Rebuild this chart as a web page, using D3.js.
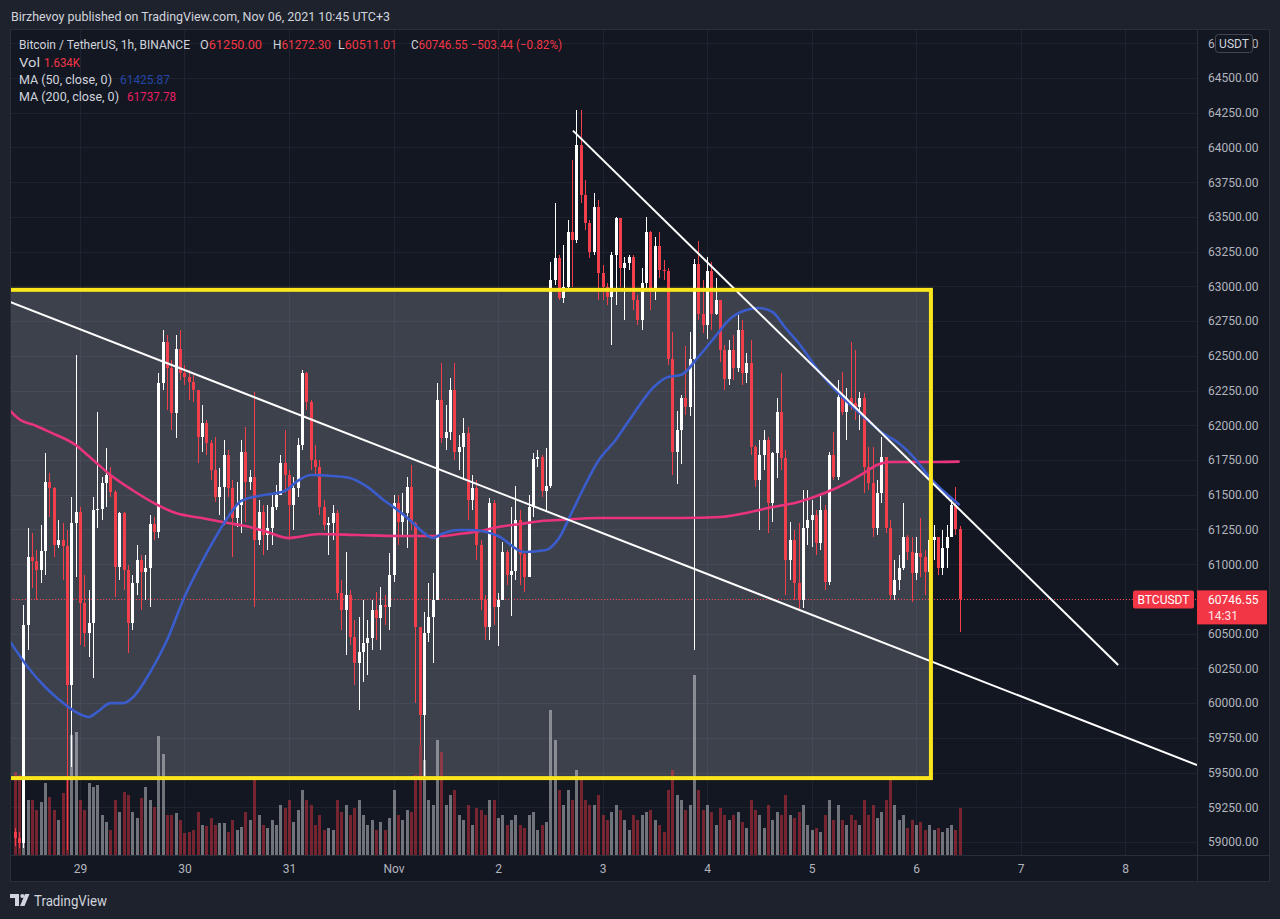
<!DOCTYPE html>
<html><head><meta charset="utf-8">
<script src="https://cdn.jsdelivr.net/npm/d3@7"></script>
<style>
html,body{margin:0;padding:0;background:#1e222d;}
svg{display:block;}
text{font-family:Roboto,"Noto Sans",sans-serif;}
</style></head><body>
<svg id="c" width="1280" height="919"></svg>
<script>
// ---------- DATA (BTCUSDT 1h, hours counted from Oct 29 00:00 UTC+3) ----------
const firstHour = -15;
const firstOpen = 59072;
const closes = [
 59030,58992,60562,61052,61023,60958,61095,61592,61548,61138,61174,61131,60130,61296,61376, // -15..-1
 60720,60504,60576,61390,61397,61584,61642,61520,60980,61368, // 0..9
 60958,60576,60864,61030,60944,60972,61289,61232,62304,62600,
 62412,62088,62549,62376,62348,62312,62254,61916,62016,61872,
 61678,61484,61556,61786,61548,61332,61426,61808,61592,61628,
 61174,61376,61210,61260,61412,61498,61728,61642,61426,61548, // 40..49
 61858,62376,62168,61750,61700,61412,61282,61296,61368,60792,
 60670,60778,60476,60288,60368,60432,60468,60670,60612,60706,
 60692,60922,61440,61304,61368,61556,61296,60548,59914,60504,
 60620,60742,62182,61908,61952,62254,61808,61844,61944,61462,
 61548,61138,60742,60548,61440,60692,60742,61088,60922,60951, // 90..99
 61318,61073,60908,61412,61757,61772,61527,61563,63046,63204,
 62916,62996,63392,63334,64018,63658,63456,63248,63572,63096,
 62996,62924,63226,63492,63132,63168,63212,62902,62758,63024,
 63392,62981,63291,63118,63111,62477,61808,61966,62196,62132,
 62477,63161,62801,62722,63111,62801,62902,62542,62333,62542, // 140..149
 62412,62686,62376,62448,61844,61606,61786,61894,61440,61800,
 62096,61764,61030,61174,60864,60742,61260,61318,61354,61152,
 61390,60872,61786,61628,62204,62096,62196,62160,62132,62196,
 61700,61584,61260,61512,61772,61260,60778,60886,60972,61196,
 61088,60936,61080,61052,60944,61174,61196,60972,61116,61196, // 190..199
 61426,61250,60746.55
];
const highs = [
 59100,59072,60706,61260,61224,61102,61282,61800,61656,61556,61318,61296,61246,61484,62506,
 61412,60922,60814,61484,62096,61628,61836,61700,61534,61376,
 61376,60994,60922,61138,61066,61066,61354,61340,62376,62686,
 62650,62470,62650,62686,62434,62398,62362,62146,62146,62038,
 61894,61916,61692,61894,61822,61606,61592,61894,61988,61678,
 62240,61462,61426,61426,61498,61570,61786,61966,61678,61628,
 61908,62398,62384,62182,61858,61750,61462,61340,61426,61390,
 60886,61088,60814,60598,60620,60742,60598,60742,60800,60836,
 60778,61080,61498,61498,61512,61628,61714,61304,60526,60656,
 60864,60936,62304,62448,62146,62340,62448,61930,62052,61988,
 61642,61606,61174,60778,61480,61462,60792,61160,61102,61412,
 61563,61390,61080,61498,61800,61822,61786,61836,63176,63600,
 63226,63298,63478,63910,64270,64270,63766,63478,63672,63622,
 63154,63024,63248,63500,63478,63212,63226,63226,62938,63132,
 63500,63399,63352,63392,63190,63132,62672,62103,62218,62571,
 62672,63197,63327,63046,63212,63176,63060,62830,62578,62614,
 62650,62794,62758,62520,62614,61858,61894,61966,61916,61808,
 62196,62376,61822,61304,61246,61296,61534,61534,61462,61390,
 61498,61426,61808,61952,62326,62384,62268,62600,62542,62240,
 62232,61844,61844,61606,61916,61772,61318,61030,61066,61440,
 61210,61196,61196,61332,61102,61282,61282,61174,61246,61282,
 61484,61556,61272.30
];
const lows = [
 58971,58956,58956,60382,60828,60742,60864,60922,61340,61052,61116,60886,58942,59540,60908,
 60418,60404,60332,60180,61260,61318,61412,61484,60764,60886,
 60814,60360,60526,60778,60670,60742,60692,61174,61188,62254,
 62110,61966,61908,62326,62290,62182,62168,61728,61808,61786,
 61606,61448,61354,61282,61484,61052,61268,61224,61304,61534,
 60692,61138,61066,61102,61138,61390,61520,61512,61174,61246,
 61484,61822,62110,61678,61642,61354,61246,61066,61174,60742,
 60526,60346,60418,60130,59950,60152,60202,60382,60454,60382,
 60562,60526,60872,61138,61210,61116,61246,60000,59698,59446,
 60440,60288,60742,61872,61822,61894,61750,61678,61606,61318,
 61390,61030,60670,60454,60454,60562,60411,60742,60850,60627,
 60886,60850,60800,60958,61340,61700,61484,61383,61548,63010,
 62902,62880,62974,62996,63312,63600,63406,63204,63226,62902,
 62902,62866,62578,62866,62996,62758,63118,62830,62722,62686,
 62974,62830,62902,63060,63046,62434,61642,61577,61721,62074,
 62067,60382,62758,62664,62621,62686,62794,62456,62254,62290,
 62326,62384,62290,62304,61786,61556,61246,61678,61224,61304,
 61620,61678,60778,60886,60742,60670,60684,61138,61124,61066,
 61102,60814,60850,61606,61606,62074,61894,62110,62038,61966,
 61512,61534,61196,61210,61440,61224,60742,60742,60814,60958,
 61030,60728,60886,60908,60778,60886,61030,60922,60922,60972,
 61196,61210,60511.01
];
const volumes = [
 2890,2780,3130,1910,1910,1570,1840,2510,2020,1570,1220,2160,2710,4180,4280,
 1910,1570,2510,2370,2440,1390,1150,870,1910,1500,
 2190,2090,1500,1290,1980,2370,1910,1670,4140,3510,
 1390,1390,1460,1220,770,800,870,1500,1040,1010,
 1290,1040,1110,1110,800,1220,870,970,1500,1220,
 2610,1390,1040,940,1220,1040,1740,1640,1910,1150,
 1570,2260,1910,1740,1040,1390,870,940,870,1910,
 1500,1740,1390,1640,1910,1390,1040,1220,870,1150,
 870,1290,2260,1390,1220,1570,1500,2780,3830,3310,
 1910,1740,4000,3580,1740,2090,2260,1390,1220,1740,
 1040,1640,1570,1390,1910,1910,1290,1390,1040,1220,
 1390,1040,940,1390,1500,870,1040,1150,5050,4000,
 2260,1740,2260,1910,2960,2680,1910,1740,1740,2090,
 1390,1220,1500,1740,1570,1220,870,1390,1220,1390,
 1500,1570,1220,1040,800,2260,2960,2090,1910,1570,
 1740,6260,2260,1570,1740,1500,1040,1640,1390,1220,
 1390,1500,1150,940,1910,1570,1390,940,1740,1220,
 1500,1390,2090,1390,1290,1500,1740,1040,870,940,
 800,1390,1910,1220,1740,1220,1040,1390,1220,1040,
 1910,1390,1740,1290,1500,1910,2610,1740,1220,1390,
 940,1220,1040,1150,870,1040,870,940,800,940,
 1040,870,1634
];
const ma50Hours  = [-16,-12,-8,-5,-1,2,4,7,10,12,16,20,24,28,30,34,37,41,47,50,53,58,62,66,70,72,76,79,81,83,87,90,96,102,107,110,113,116,119,123,126,132,135,138,142,146,149,153,156,159,162,165,170,175,180,184,188,192,195,198,202];
const ma50Values = [60440,60260,60116,60030,59936,59900,59936,60000,60000,60036,60216,60454,60764,61016,61131,61340,61455,61491,61527,61599,61642,61635,61620,61556,61455,61412,61311,61224,61188,61217,61246,61246,61203,61088,61102,61188,61376,61570,61743,61894,62031,62283,62348,62362,62492,62643,62758,62830,62844,62816,62701,62592,62376,62204,62060,61952,61872,61750,61628,61534,61426];
const ma200Hours  = [-16,-14,-10,-7,-1,2,7,12,17,22,28,34,39,43,48,50,55,64,73,83,87,92,96,101,106,110,119,129,138,147,154,158,165,171,176,180,183,186,192,197,202];
const ma200Values = [62103,62045,61995,61952,61858,61779,61642,61534,61440,61368,61332,61296,61268,61232,61188,61196,61217,61210,61203,61203,61217,61239,61268,61289,61311,61318,61332,61332,61332,61340,61376,61404,61448,61512,61584,61656,61714,61736,61736,61736,61738];
const priceTicks = [59000,59250,59500,59750,60000,60250,60500,60750,61000,61250,61500,61750,62000,62250,62500,62750,63000,63250,63500,63750,64000,64250,64500,64750];
const dayTicks  = [0,24,48,72,96,120,144,168,192,216,240];
const dayLabels = ["29","30","31","Nov","2","3","4","5","6","7","8"];
const boxRange  = {startHour:-30, endHour:195.4, top:62975, bottom:59460};
const trendA = [{h:-16.07,p:62888},{h:256.5,p:59554}];
const trendB = [{h:113.2,p:64121},{h:238.4,p:60274}];
const lastPrice = 60746.55;
const legend = {o:"61250.00",h:"61272.30",l:"60511.01",c:"60746.55",chg:"−503.44 (−0.82%)",vol:"1.634K",ma50:"61425.87",ma200:"61737.78"};

// ---------- LAYOUT ----------
const L = 10, R = 1197, T = 30, B = 855;
const svg = d3.select("#c");
const x = d3.scaleLinear().domain([-16.07, 256.5]).range([L, R]);
const y = d3.scaleLinear().domain([58906.4, 64845.5]).range([B, T]);
const yVol = d3.scaleLinear().domain([0, 28710]).range([B, T]);
const UP = "#ffffff", DOWN = "#f23f4b";

svg.append("rect").attr("width",1280).attr("height",919).attr("fill","#1e222d");
svg.append("rect").attr("x",L).attr("y",T).attr("width",1269-L).attr("height",882-T).attr("fill","#131722");
svg.append("defs").append("clipPath").attr("id","plot").append("rect")
  .attr("x",L).attr("y",T).attr("width",R-L).attr("height",B-T);

// grid
const grid = svg.append("g").attr("stroke","#1f2330").attr("stroke-width",1).attr("shape-rendering","crispEdges");
grid.selectAll(".h").data(priceTicks).join("line").attr("x1",L).attr("x2",R)
  .attr("y1",d=>Math.round(y(d))+0.5).attr("y2",d=>Math.round(y(d))+0.5);
grid.selectAll(".v").data(dayTicks).join("line").attr("y1",T).attr("y2",B)
  .attr("x1",d=>Math.round(x(d))+0.5).attr("x2",d=>Math.round(x(d))+0.5);

const plot = svg.append("g").attr("clip-path","url(#plot)");

// box fill
plot.append("rect")
  .attr("x",x(boxRange.startHour)).attr("y",y(boxRange.top))
  .attr("width",x(boxRange.endHour)-x(boxRange.startHour))
  .attr("height",y(boxRange.bottom)-y(boxRange.top))
  .attr("fill","rgba(178,181,190,0.27)");

// candles data
const candles = closes.map((c,i)=>({h:firstHour+i, o: i===0?firstOpen:closes[i-1], c, hi:highs[i], lo:lows[i], v:volumes[i]}));

// volume
plot.append("g").attr("shape-rendering","crispEdges").selectAll("rect").data(candles).join("rect")
  .attr("x",d=>Math.round(x(d.h))-1).attr("width",3)
  .attr("y",d=>yVol(d.v)).attr("height",d=>B-yVol(d.v))
  .attr("fill",d=>d.c>=d.o?"rgba(255,255,255,0.4)":"rgba(242,54,69,0.45)");

// current price dotted line
plot.append("line").attr("x1",L).attr("x2",R).attr("y1",Math.round(y(lastPrice))+0.5).attr("y2",Math.round(y(lastPrice))+0.5)
  .attr("stroke",DOWN).attr("stroke-width",1).attr("stroke-dasharray","1,2");

// candles
const cg = plot.append("g").attr("shape-rendering","crispEdges");
cg.selectAll("line").data(candles).join("line")
  .attr("x1",d=>Math.round(x(d.h))+0.5).attr("x2",d=>Math.round(x(d.h))+0.5)
  .attr("y1",d=>y(d.hi)).attr("y2",d=>y(d.lo))
  .attr("stroke",d=>d.c>=d.o?UP:DOWN).attr("stroke-width",1);
cg.selectAll("rect").data(candles).join("rect")
  .attr("x",d=>Math.round(x(d.h))-1).attr("width",3)
  .attr("y",d=>y(Math.max(d.o,d.c)))
  .attr("height",d=>Math.max(1,Math.abs(y(d.o)-y(d.c))))
  .attr("fill",d=>d.c>=d.o?UP:DOWN);

// moving averages
const line = d3.line().x(d=>x(d[0])).y(d=>y(d[1])).curve(d3.curveMonotoneX);
plot.append("path").datum(ma200Hours.map((h,i)=>[h,ma200Values[i]])).attr("d",line)
  .attr("fill","none").attr("stroke","#e9347c").attr("stroke-width",2.6);
plot.append("path").datum(ma50Hours.map((h,i)=>[h,ma50Values[i]])).attr("d",line)
  .attr("fill","none").attr("stroke","#3a5ccc").attr("stroke-width",2.6);

// trend lines
[trendA,trendB].forEach(t=>{
  plot.append("line").attr("x1",x(t[0].h)).attr("y1",y(t[0].p)).attr("x2",x(t[1].h)).attr("y2",y(t[1].p))
    .attr("stroke","#ffffff").attr("stroke-width",2);
});

// box border
plot.append("rect")
  .attr("x",x(boxRange.startHour)).attr("y",y(boxRange.top))
  .attr("width",x(boxRange.endHour)-x(boxRange.startHour))
  .attr("height",y(boxRange.bottom)-y(boxRange.top))
  .attr("fill","none").attr("stroke","#fbe61e").attr("stroke-width",4);

// borders
const bd = svg.append("g").attr("stroke","#2a2e39").attr("shape-rendering","crispEdges");
bd.append("line").attr("x1",R+0.5).attr("x2",R+0.5).attr("y1",T).attr("y2",882);
bd.append("line").attr("x1",L).attr("x2",1269).attr("y1",B+0.5).attr("y2",B+0.5);
bd.append("rect").attr("x",L+0.5).attr("y",T-0.5).attr("width",1269-L).attr("height",882-T).attr("fill","none");

// price axis
const ya = svg.append("g").attr("transform",`translate(${R},0)`)
  .call(d3.axisRight(y).tickValues(priceTicks).tickFormat(d3.format(".2f")).tickSize(0).tickPadding(11));
ya.select(".domain").remove();
ya.selectAll("text").attr("fill","#b2b5be").style("font-size","12px").style("font-family","Roboto,'Noto Sans',sans-serif");

// time axis
const xa = svg.append("g").attr("transform",`translate(0,${B})`)
  .call(d3.axisBottom(x).tickValues(dayTicks).tickFormat((d,i)=>dayLabels[i]).tickSize(0).tickPadding(9));
xa.select(".domain").remove();
xa.selectAll("text").attr("fill","#b2b5be").style("font-size","12px").style("font-family","Roboto,'Noto Sans',sans-serif");

// USDT button (covers the middle of the top price label, as in the reference)
svg.append("rect").attr("x",1215.5).attr("y",34.5).attr("width",37).attr("height",18).attr("rx",3)
  .attr("fill","#131722").attr("stroke","#434651");
svg.append("text").attr("x",1234).attr("y",47.5).attr("text-anchor","middle").attr("fill","#d1d4dc")
  .style("font-size","12px").text("USDT");

// last price labels
const ly = y(lastPrice);
svg.append("rect").attr("x",1133).attr("y",ly-9).attr("width",61).attr("height",18).attr("rx",2).attr("fill","#f23645");
svg.append("text").attr("x",1163.5).attr("y",ly+4.5).attr("text-anchor","middle").attr("fill","#ffffff")
  .style("font-size","12px").text("BTCUSDT");
svg.append("rect").attr("x",R).attr("y",ly-9).attr("width",70).attr("height",34).attr("fill","#f23645");
svg.append("text").attr("x",1208).attr("y",ly+5).attr("fill","#ffffff").style("font-size","12px").text(d3.format(".2f")(lastPrice));
svg.append("text").attr("x",1208).attr("y",ly+21).attr("fill","#ffe4e6").style("font-size","12px").text("14:31");

// header
svg.append("text").attr("x",11).attr("y",21).attr("fill","#d1d4dc").style("font-size","13px")
  .attr("textLength",379).attr("lengthAdjust","spacingAndGlyphs")
  .text("Birzhevoy published on TradingView.com, Nov 06, 2021 10:45 UTC+3");

// legend
const lg = svg.append("g").attr("fill","#d1d4dc").style("font-size","12px");
function seg(xp, yp, txt, w, col){
  const t = lg.append("text").attr("x",xp).attr("y",yp).attr("textLength",w).attr("lengthAdjust","spacingAndGlyphs").text(txt);
  if(col) t.attr("fill",col);
  return t;
}
seg(19,48.5,"Bitcoin / TetherUS, 1h, BINANCE",171);
function ohlc(xp, lab, val, w){
  const t = lg.append("text").attr("x",xp).attr("y",48.5).attr("textLength",w).attr("lengthAdjust","spacingAndGlyphs");
  t.append("tspan").text(lab);
  t.append("tspan").attr("fill","#f23645").text(val);
}
ohlc(200,"O",legend.o,62); ohlc(273,"H",legend.h,58); ohlc(338,"L",legend.l,59); ohlc(411,"C",legend.c+" "+legend.chg,151);
seg(19,66.5,"Vol",21);
seg(44,66.5,legend.vol,36,"#f23645");
seg(19,84,"MA (50, close, 0)",93);
seg(120,84,legend.ma50,50,"#2446a8");
seg(19,101,"MA (200, close, 0)",100);
seg(127,101,legend.ma200,49,"#e91e63");

// footer logo
const lo = svg.append("g").attr("fill","#d1d4dc");
lo.append("path").attr("d","M10,894 H19 V906 H15 V898 H10 Z");
lo.append("circle").attr("cx",22.3).attr("cy",896).attr("r",2);
lo.append("path").attr("d","M25,894 H29.5 L24.5,906 H20 Z");
svg.append("text").attr("x",34).attr("y",906).attr("fill","#d1d4dc").style("font-size","14px")
  .attr("textLength",73).attr("lengthAdjust","spacingAndGlyphs").text("TradingView");
</script></body></html>
